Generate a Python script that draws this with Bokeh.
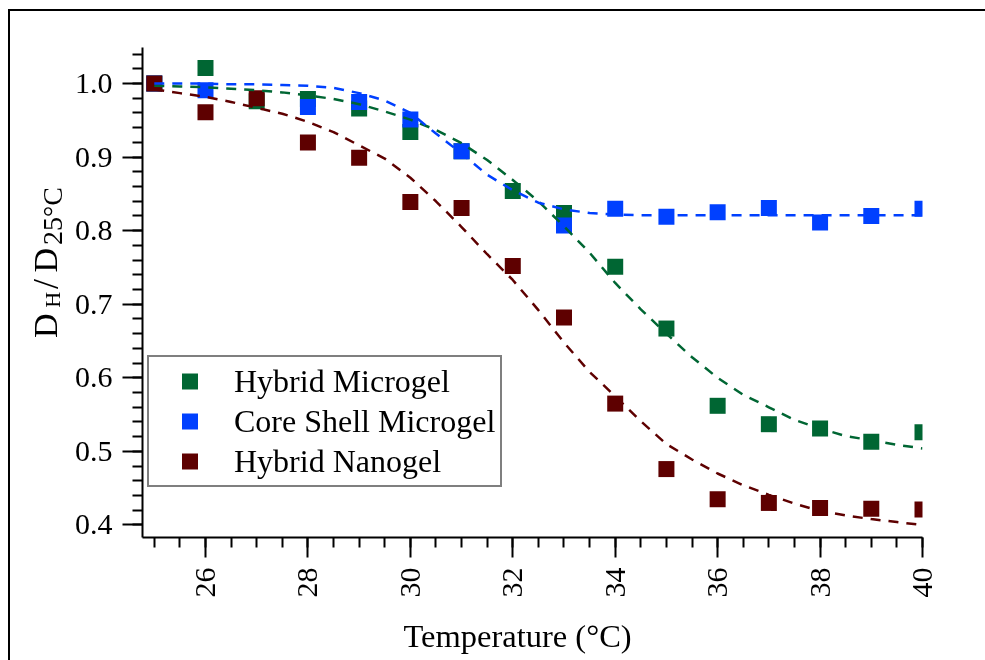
import math
from bokeh.plotting import figure
from bokeh.layouts import row
from bokeh.models import (Range1d, FixedTicker, PrintfTickFormatter, Legend,
                          LegendItem, Title)
from bokeh.core.properties import value
from bokeh.embed import file_html
from bokeh.resources import INLINE

# ---------------- data ----------------
temps = [25, 26, 27, 28, 29, 30, 31, 32, 33, 34, 35, 36, 37, 38, 39, 40]
hybrid_microgel = [1.000, 1.021, 0.976, 0.979, 0.966, 0.934, 0.908, 0.854,
                   0.824, 0.751, 0.667, 0.562, 0.537, 0.531, 0.513, 0.526]
core_temps = [25, 26, 28, 29, 30, 31, 33, 34, 35, 36, 37, 38, 39, 40]
core_shell = [1.000, 0.991, 0.968, 0.975, 0.951, 0.908, 0.807,
              0.830, 0.819, 0.825, 0.831, 0.811, 0.820, 0.830]
hybrid_nanogel = [1.000, 0.961, 0.980, 0.920, 0.899, 0.839, 0.831, 0.752,
                  0.682, 0.565, 0.476, 0.435, 0.430, 0.423, 0.422, 0.421]

fit_temps = [25.0, 25.5, 26.0, 26.5, 27.0, 27.5, 28.0, 28.5, 29.0, 29.5, 30.0,
             30.5, 31.0, 31.5, 32.0, 32.5, 33.0, 33.5, 34.0, 34.5, 35.0, 35.5,
             36.0, 36.5, 37.0, 37.5, 38.0, 38.5, 39.0, 39.5, 40.0]
fit_hybrid_microgel = [0.997, 0.996, 0.995, 0.993, 0.991, 0.988, 0.984, 0.979,
                       0.972, 0.962, 0.951, 0.937, 0.919, 0.896, 0.869, 0.840,
                       0.806, 0.770, 0.729, 0.693, 0.660, 0.628, 0.600, 0.577,
                       0.560, 0.543, 0.531, 0.521, 0.515, 0.509, 0.504]
fit_core_shell = [1.000, 1.000, 1.000, 0.999, 0.999, 0.998, 0.997, 0.994,
                  0.987, 0.977, 0.960, 0.932, 0.905, 0.876, 0.855, 0.838,
                  0.829, 0.824, 0.822, 0.821, 0.821, 0.821, 0.821, 0.821,
                  0.821, 0.821, 0.821, 0.821, 0.821, 0.821, 0.821]
fit_hybrid_nanogel = [0.992, 0.987, 0.982, 0.975, 0.967, 0.959, 0.948, 0.934,
                      0.916, 0.898, 0.872, 0.840, 0.805, 0.768, 0.733, 0.692,
                      0.648, 0.608, 0.575, 0.541, 0.510, 0.489, 0.470, 0.454,
                      0.441, 0.429, 0.419, 0.413, 0.408, 0.404, 0.400]

x_major_ticks = [26, 28, 30, 32, 34, 36, 38, 40]
y_major_ticks = [0.4, 0.5, 0.6, 0.7, 0.8, 0.9, 1.0]
series_names = ["Hybrid Microgel", "Core Shell Microgel", "Hybrid Nanogel"]
x_title = "Temperature (°C)"
# y title "D_H / D_25°C" in pieces: (text, font size)
y_title_parts = [("D", "34px"), ("H", "22px"), ("/", "36px"), ("D", "34px"), ("25°C", "28px")]

GREEN = "#006633"
BLUE = "#0040ff"
RED = "#5e0000"
FONT = "Liberation Serif"

# ---------------- main plot ----------------
p = figure(width=935, height=660, output_backend="svg", toolbar_location=None,
           x_range=Range1d(24.77, 40.0), y_range=Range1d(0.383, 1.049),
           min_border_left=72, min_border_right=83, min_border_top=36,
           min_border_bottom=134)
p.outline_line_color = None
p.xgrid.visible = False
p.ygrid.visible = False
p.background_fill_color = "white"
p.border_fill_color = "white"

xminor = [25 + 0.5 * i for i in range(31)]
yminor = [round(0.38 + 0.02 * i, 2) for i in range(35)]
p.xaxis[0].ticker = FixedTicker(ticks=x_major_ticks, minor_ticks=xminor)
p.yaxis[0].ticker = FixedTicker(ticks=y_major_ticks, minor_ticks=yminor)
p.yaxis[0].formatter = PrintfTickFormatter(format="%.1f")
p.xaxis[0].major_label_orientation = math.pi / 2

for ax in (p.xaxis[0], p.yaxis[0]):
    ax.axis_line_width = 2
    ax.axis_line_color = "black"
    ax.major_tick_line_width = 2
    ax.minor_tick_line_width = 2
    ax.major_tick_line_color = "black"
    ax.minor_tick_line_color = "black"
    ax.major_tick_out = 20
    ax.major_tick_in = 0
    ax.minor_tick_out = 10
    ax.minor_tick_in = 0
    ax.major_label_text_font = FONT
    ax.major_label_text_font_size = "30px"
    ax.major_label_text_color = "black"
    ax.major_label_standoff = 10

# scatter points
r_g = p.scatter(temps, hybrid_microgel, marker="square", size=16,
                fill_color=GREEN, line_color=None)
r_b = p.scatter(core_temps, core_shell, marker="square", size=16,
                fill_color=BLUE, line_color=None)
r_r = p.scatter(temps, hybrid_nanogel, marker="square", size=16,
                fill_color=RED, line_color=None)

# fitted dashed curves (drawn over the squares)
p.line(fit_temps, fit_hybrid_microgel, line_color=GREEN, line_width=2.5, line_dash="10 8")
p.line(fit_temps, fit_core_shell, line_color=BLUE, line_width=2.5, line_dash="10 8")
p.line(fit_temps, fit_hybrid_nanogel, line_color=RED, line_width=2.5, line_dash="10 8")

legend = Legend(items=[LegendItem(label=series_names[0], renderers=[r_g]),
                       LegendItem(label=series_names[1], renderers=[r_b]),
                       LegendItem(label=series_names[2], renderers=[r_r])],
                location=(5, 50))
legend.glyph_width = 73
legend.glyph_height = 40
legend.spacing = 0
legend.padding = 4
legend.margin = 0
legend.label_standoff = 8
legend.label_width = 262
legend.label_text_font = FONT
legend.label_text_font_size = "32px"
legend.label_text_color = "black"
legend.border_line_color = "black"
legend.border_line_width = 2
legend.background_fill_color = "white"
legend.background_fill_alpha = 1.0
p.add_layout(legend)

# x-axis title below the tick labels, placed a little left of centre
p.add_layout(Title(text=x_title, align="left", offset=261, standoff=31,
                   text_font=FONT, text_font_size="32.5px",
                   text_font_style="normal", text_color="black"), "below")

# ---------------- y-axis title strip (left) ----------------
# its frame spans the same height as the main frame (47..537 px on the page)
left = figure(width=60, height=660, output_backend="svg", toolbar_location=None,
              x_range=Range1d(0, 60), y_range=Range1d(0, 490),
              min_border_left=0, min_border_right=0, min_border_top=36,
              min_border_bottom=134,
              x_axis_location=None, y_axis_location=None)
left.outline_line_color = None
left.grid.visible = False
left.background_fill_color = "white"
left.border_fill_color = "white"
# placement of each piece inside the strip (pixels): x = baseline, y = start
y_piece_pos = [(35.0, 199.5), (41.7, 229.7), (35.0, 248.5), (35.0, 265.0), (41.7, 292.5)]
for (txt, fs), (px, py) in zip(y_title_parts, y_piece_pos):
    left.text(x=[px], y=[py], text=[txt], angle=math.pi / 2,
              text_font=value(FONT), text_font_size=value(fs),
              text_align="left", text_baseline="alphabetic", text_color="black")

# the outer frame of the reference runs past the right and bottom window edges
layout = row(left, p, spacing=0,
             styles={"position": "fixed", "left": "8px", "top": "9px",
                     "border-left": "2px solid black",
                     "border-top": "2px solid black"})

open("out.html", "w").write(file_html(layout, INLINE))
